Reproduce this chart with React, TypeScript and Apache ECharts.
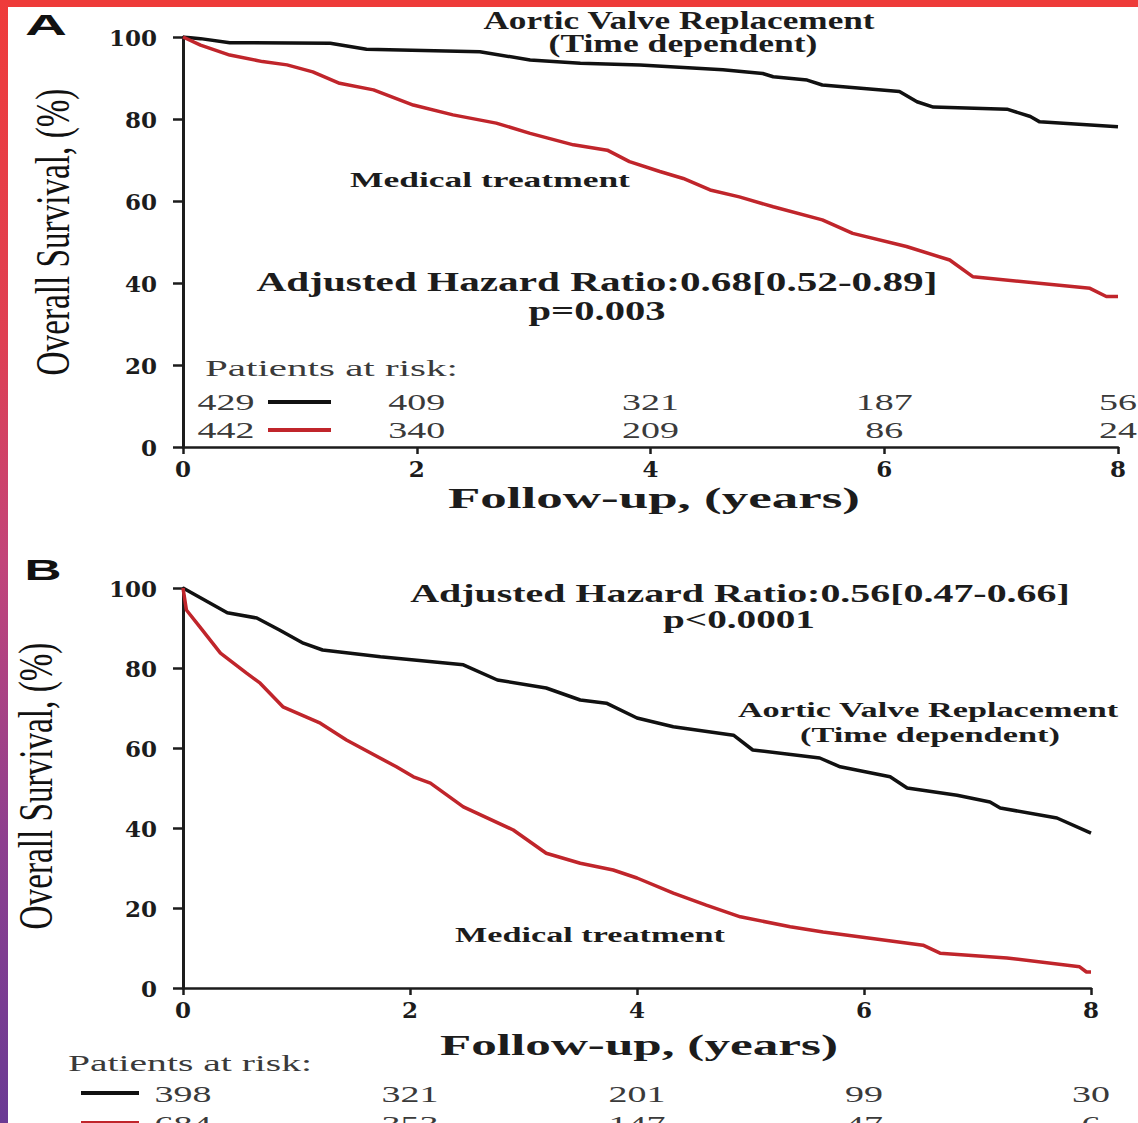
import React, { useEffect, useRef } from "react";
import * as echarts from "echarts";

// ---------- data ----------
const xTicks = [0, 2, 4, 6, 8];
// Panel A, Kaplan-Meier curves [years, survival %]
const avrA: number[][] = [
  [0, 100], [0.15, 99.6], [0.4, 98.6], [1.26, 98.5], [1.57, 97.0], [2.54, 96.4], [2.97, 94.4],
  [3.4, 93.6], [3.91, 93.2], [4.62, 92.0], [4.96, 91.1], [5.05, 90.3], [5.34, 89.5], [5.47, 88.3],
  [6.13, 86.7], [6.28, 84.2], [6.42, 82.9], [7.05, 82.4], [7.25, 80.6], [7.33, 79.3], [8.0, 78.1],
];
const medA: number[][] = [
  [0, 100], [0.15, 98.0], [0.4, 95.6], [0.68, 94.0], [0.89, 93.2], [1.11, 91.5], [1.34, 88.7],
  [1.63, 87.1], [1.97, 83.4], [2.31, 81.0], [2.68, 79.0], [2.97, 76.5], [3.34, 73.7], [3.63, 72.4],
  [3.82, 69.6], [4.08, 67.2], [4.28, 65.5], [4.51, 62.7], [4.76, 61.0], [5.05, 58.6], [5.47, 55.4],
  [5.73, 52.1], [6.19, 48.9], [6.56, 45.6], [6.76, 41.5], [7.76, 38.7], [7.9, 36.7], [8.0, 36.7],
];
// Panel B
const avrB: number[][] = [
  [0, 100], [0.39, 93.8], [0.65, 92.5], [0.85, 89.5], [1.06, 86.2], [1.23, 84.5], [1.74, 82.8],
  [2.47, 80.8], [2.77, 77.0], [3.2, 75.0], [3.5, 72.0], [3.73, 71.2], [4.0, 67.5], [4.32, 65.3],
  [4.85, 63.2], [5.02, 59.5], [5.61, 57.5], [5.79, 55.3], [6.23, 52.8], [6.38, 50.0], [6.82, 48.2],
  [7.11, 46.5], [7.2, 45.0], [7.7, 42.5], [8.0, 38.7],
];
const medB: number[][] = [
  [0, 100], [0.03, 94.5], [0.15, 90.2], [0.33, 83.7], [0.56, 78.7], [0.68, 76.2], [0.88, 70.3],
  [1.21, 66.2], [1.44, 62.0], [1.88, 55.3], [2.03, 52.8], [2.18, 51.2], [2.47, 45.3], [2.91, 39.5],
  [3.2, 33.7], [3.5, 31.2], [3.79, 29.5], [4.0, 27.5], [4.32, 23.7], [4.61, 20.7], [4.91, 17.8],
  [5.35, 15.3], [5.64, 14.0], [6.52, 10.7], [6.67, 8.7], [7.26, 7.5], [7.9, 5.3], [7.96, 4.0], [8.0, 4.0],
];
// Patients at risk
const riskTimes = [0, 2, 4, 6, 8];
const riskAvrA = [429, 409, 321, 187, 56];
const riskMedA = [442, 340, 209, 86, 24];
const riskAvrB = [398, 321, 201, 99, 30];
const riskMedB = [684, 353, 147, 47, 6];
// Texts
const panelLabels = ["A", "B"];
const avrLabel = ["Aortic Valve Replacement", "(Time dependent)"];
const medLabel = "Medical treatment";
const hrA = ["Adjusted Hazard Ratio:0.68[0.52-0.89]", "p=0.003"];
const hrB = ["Adjusted Hazard Ratio:0.56[0.47-0.66]", "p<0.0001"];
const xTitle = "Follow-up, (years)";
const yTitle = "Overall Survival, (%)";
const riskTitle = "Patients at risk:";

// ---------- styles ----------
const SERIF = "'Liberation Serif', 'Times New Roman', serif";
const SANS = "'Liberation Sans', Arial, sans-serif";
const INK = "#1c1c1c";
const GREY = "#3a3a3a";
const BLACK_LINE = "#111111";
const RED_LINE = "#c0252b";

let _ctx: CanvasRenderingContext2D | null = null;
function measure(text: string, size: number, weight: string, family: string) {
  if (!_ctx) _ctx = document.createElement("canvas").getContext("2d");
  _ctx!.font = `${weight} ${size}px ${family}`;
  return _ctx!.measureText(text).width;
}

function txt(
  text: string, x: number, y: number, size: number, weight: string,
  opts: { w?: number; sx?: number; align?: string; fill?: string; family?: string } = {}
) {
  const family = opts.family || SERIF;
  const align = opts.align || "center";
  const sx = opts.w ? opts.w / measure(text, size, weight, family) : opts.sx || 1;
  return {
    type: "text", x, y, scaleX: sx, silent: true, z: 10,
    style: {
      text, fontSize: size, fontWeight: weight, fontFamily: family, fill: opts.fill || INK,
      align, verticalAlign: "middle", textAlign: align, textVerticalAlign: "middle",
    },
  };
}

const xAxisCfg = (gridIndex: number) => ({
  type: "value", gridIndex, min: 0, max: 8, interval: 2,
  axisLine: { show: true, onZero: false, lineStyle: { color: INK, width: 2.5 } },
  axisTick: { show: true, length: 7, lineStyle: { color: INK, width: 2.5 } },
  axisLabel: { color: INK, fontFamily: "'DejaVu Serif', serif", fontWeight: "bold", fontSize: 23, margin: 10 },
  splitLine: { show: false },
});
const yAxisCfg = (gridIndex: number) => ({
  type: "value", gridIndex, min: 0, max: 100, interval: 20,
  axisLine: { show: true, onZero: false, lineStyle: { color: INK, width: 3 } },
  axisTick: { show: true, length: 10, lineStyle: { color: INK, width: 2.5 } },
  axisLabel: { color: INK, fontFamily: "'DejaVu Serif', serif", fontWeight: "bold", fontSize: 23, margin: 26 },
  splitLine: { show: false },
});
const lineSeries = (data: number[][], idx: number, color: string) => ({
  type: "line", xAxisIndex: idx, yAxisIndex: idx, data, showSymbol: false, symbol: "none",
  lineStyle: { color, width: 3.5 }, itemStyle: { color }, z: 3, silent: true,
});

export default function App() {
  const ref = useRef<HTMLDivElement>(null);
  useEffect(() => {
    const chart = echarts.init(ref.current!, null, { renderer: "svg" });
    chart.setOption({
      animation: false,
      backgroundColor: "#ffffff",
      grid: [
        { left: 183, top: 37, width: 935, height: 410 },
        { left: 183, top: 588, width: 908, height: 400 },
      ],
      xAxis: [xAxisCfg(0), xAxisCfg(1)],
      yAxis: [yAxisCfg(0), yAxisCfg(1)],
      series: [
        lineSeries(avrA, 0, BLACK_LINE),
        lineSeries(medA, 0, RED_LINE),
        lineSeries(avrB, 1, BLACK_LINE),
        lineSeries(medB, 1, RED_LINE),
      ],
    });

    const px = (axis: number, t: number) => chart.convertToPixel({ xAxisIndex: axis }, t) as number;
    const numSX = 1.65;
    const g: any[] = [];

    // frame bands
    g.push({ type: "rect", shape: { x: 0, y: 0, width: 1138, height: 7 }, style: { fill: "#ee3b39" }, z: 20, silent: true });
    g.push({
      type: "rect", shape: { x: 0, y: 0, width: 8, height: 1123 }, z: 20, silent: true,
      style: {
        fill: new echarts.graphic.LinearGradient(0, 0, 0, 1, [
          { offset: 0, color: "#ef3b3a" },
          { offset: 0.3, color: "#df3f52" },
          { offset: 0.5, color: "#c2447a" },
          { offset: 0.75, color: "#8d3f8f" },
          { offset: 1, color: "#6a3a94" },
        ]),
      },
    });

    // panel letters
    g.push(txt(panelLabels[0], 46, 25, 30, "bold", { w: 42, family: SANS, fill: "#111" }));
    g.push(txt(panelLabels[1], 43, 570, 30, "bold", { w: 37, family: SANS, fill: "#111" }));

    // y titles
    [[52, 232], [35, 786]].forEach(([x, y]) => {
      g.push({
        type: "text", x, y, rotation: Math.PI / 2, silent: true, z: 10,
        scaleX: 287 / measure(yTitle, 33, "normal", SERIF), scaleY: 1.5,
        style: {
          text: yTitle, fontSize: 33, fontWeight: "normal", fontFamily: SERIF, fill: "#111",
          align: "center", verticalAlign: "middle", textAlign: "center", textVerticalAlign: "middle",
        },
      });
    });

    // x titles
    g.push(txt(xTitle, 654, 498, 30, "bold", { w: 412 }));
    g.push(txt(xTitle, 639, 1045, 30, "bold", { w: 398 }));

    // Panel A annotations
    g.push(txt(avrLabel[0], 679, 21, 25, "bold", { w: 392 }));
    g.push(txt(avrLabel[1], 683, 44, 25, "bold", { w: 269 }));
    g.push(txt(medLabel, 490, 180, 21, "bold", { w: 280 }));
    g.push(txt(hrA[0], 597, 282, 27, "bold", { w: 681 }));
    g.push(txt(hrA[1], 597, 311, 27, "bold", { w: 137 }));
    // Panel B annotations
    g.push(txt(hrB[0], 740, 593, 25, "bold", { w: 660 }));
    g.push(txt(hrB[1], 739, 620, 25, "bold", { w: 152 }));
    g.push(txt(avrLabel[0], 928, 710, 21, "bold", { w: 381 }));
    g.push(txt(avrLabel[1], 930, 735, 21, "bold", { w: 260 }));
    g.push(txt(medLabel, 590, 935, 20, "bold", { w: 270 }));

    // Patients at risk, panel A
    g.push(txt(riskTitle, 205, 368, 23, "normal", { w: 253, align: "left", fill: GREY }));
    const rowsA = [[riskAvrA, 402, BLACK_LINE], [riskMedA, 430, RED_LINE]] as const;
    rowsA.forEach(([vals, y, col]) => {
      g.push(txt(String(vals[0]), 226, y, 23, "normal", { sx: numSX, fill: GREY }));
      g.push({ type: "line", shape: { x1: 268, y1: y, x2: 331, y2: y }, style: { stroke: col, lineWidth: 4 }, z: 10, silent: true });
      for (let i = 1; i < riskTimes.length; i++) {
        g.push(txt(String(vals[i]), px(0, riskTimes[i]), y, 23, "normal", { sx: numSX, fill: GREY }));
      }
    });
    // Patients at risk, panel B
    g.push(txt(riskTitle, 68, 1063, 23, "normal", { w: 244, align: "left", fill: GREY }));
    const rowsB = [[riskAvrB, 1094, BLACK_LINE], [riskMedB, 1124, RED_LINE]] as const;
    rowsB.forEach(([vals, y, col]) => {
      g.push({ type: "line", shape: { x1: 81, y1: y - 1, x2: 139, y2: y - 1 }, style: { stroke: col, lineWidth: 4 }, z: 10, silent: true });
      for (let i = 0; i < riskTimes.length; i++) {
        g.push(txt(String(vals[i]), px(1, riskTimes[i]), y, 23, "normal", { sx: numSX, fill: GREY }));
      }
    });

    chart.setOption({ graphic: g });
    return () => chart.dispose();
  }, []);
  return (
    <div
      ref={ref}
      style={{ position: "absolute", left: 0, top: 0, width: 1138, height: 1123, background: "#fff" }}
    />
  );
}
